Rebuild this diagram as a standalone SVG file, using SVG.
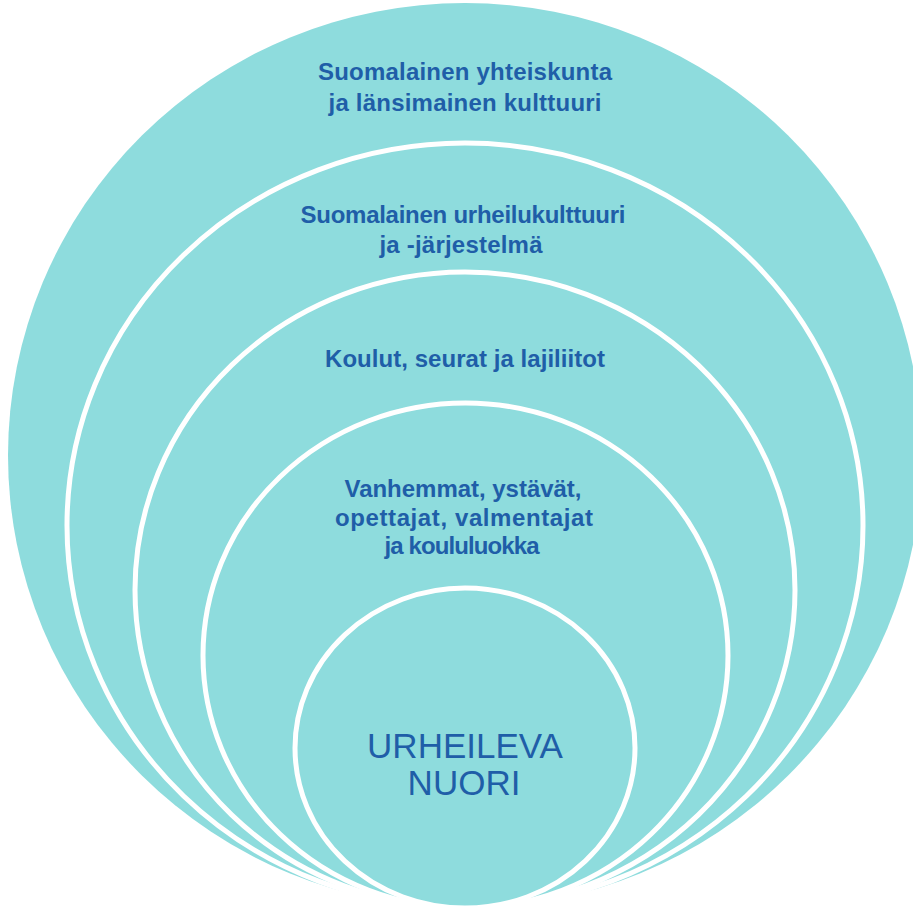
<svg xmlns="http://www.w3.org/2000/svg" width="913" height="910" viewBox="0 0 913 910">
<style>
.ring{fill:#8edcdd;stroke:#ffffff;stroke-width:5}
.outer{fill:#8edcdd}
.lbl{font-family:"Liberation Sans",Arial,sans-serif;font-weight:bold;font-size:24px;fill:#1f5ea8;text-anchor:middle}
.core{font-family:"Liberation Sans",Arial,sans-serif;font-size:35px;fill:#1f5ea8;text-anchor:middle}
</style>
<rect width="913" height="910" fill="#ffffff"/>
<g id="layer1">
<ellipse class="outer" cx="465" cy="455.5" rx="457" ry="452.5"/>
<text class="lbl" x="465" y="80" textLength="294">Suomalainen yhteiskunta</text>
<text class="lbl" x="465" y="111" textLength="273">ja länsimainen kulttuuri</text>
</g>
<g id="layer2">
<ellipse class="ring" cx="465" cy="525.5" rx="398" ry="382.5"/>
<text class="lbl" x="463" y="223" textLength="325">Suomalainen urheilukulttuuri</text>
<text class="lbl" x="461" y="253" textLength="163">ja -järjestelmä</text>
</g>
<g id="layer3">
<ellipse class="ring" cx="465" cy="590" rx="330" ry="318"/>
<text class="lbl" x="465" y="367" textLength="280">Koulut, seurat ja lajiliitot</text>
</g>
<g id="layer4">
<ellipse class="ring" cx="465.5" cy="655.5" rx="262.5" ry="252.5"/>
<text class="lbl" x="463" y="497" textLength="237">Vanhemmat, ystävät,</text>
<text class="lbl" x="464" y="526" textLength="258">opettajat, valmentajat</text>
<text class="lbl" x="462" y="554" textLength="155">ja koululuokka</text>
</g>
<g id="core">
<ellipse class="ring" cx="465" cy="748" rx="170" ry="160"/>
<text class="core" x="465" y="758">URHEILEVA</text>
<text class="core" x="464" y="795">NUORI</text>
</g>
<g id="connectors"/>
</svg>
